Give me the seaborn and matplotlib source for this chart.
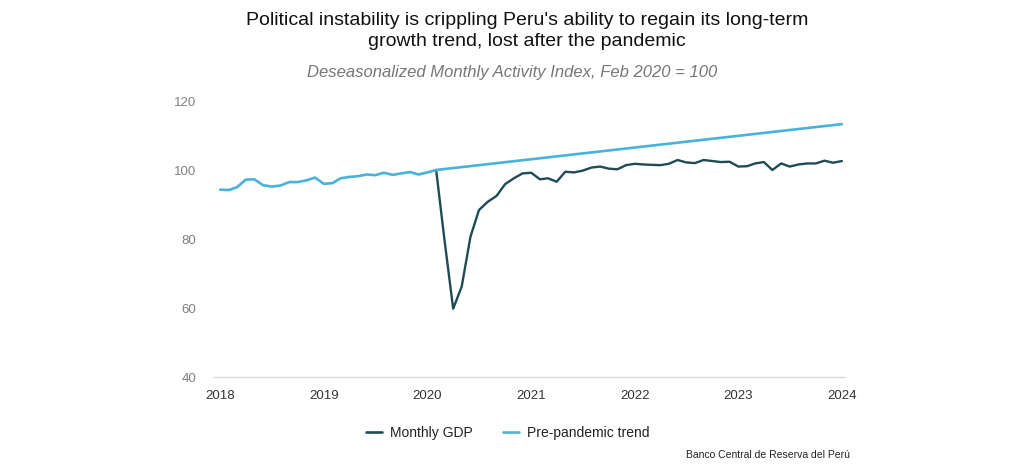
import matplotlib
matplotlib.use("Agg")
import matplotlib.pyplot as plt
import seaborn as sns
import pandas as pd

# ---- data ----
pre_months = pd.date_range("2018-01-01", "2020-02-01", freq="MS")
pre_values = [94.3, 94.2, 95.0, 97.2, 97.3, 95.6, 95.2, 95.5, 96.5, 96.5, 97.0, 97.8,
              96.0, 96.2, 97.6, 98.0, 98.2, 98.7, 98.5, 99.2, 98.6, 99.0, 99.4, 98.7,
              99.3, 100.0]
trend_end_month = pd.Timestamp("2024-01-01")
trend_end_value = 113.3

gdp_months = pd.date_range("2020-02-01", "2024-01-01", freq="MS")
gdp_values = [100.0, 80.0, 59.8, 66.2, 80.7, 88.4, 90.8, 92.5, 95.9, 97.6, 99.0,
              99.2, 97.3, 97.6, 96.6, 99.5, 99.3, 99.8, 100.7, 101.0, 100.4, 100.2, 101.4,
              101.8, 101.6, 101.5, 101.4, 101.8, 102.9, 102.2, 102.0, 102.9, 102.6, 102.3, 102.4,
              101.0, 101.1, 101.9, 102.3, 100.0, 101.9, 101.0, 101.6, 101.9, 101.9, 102.7, 102.1,
              102.6]

series_names = ["Monthly GDP", "Pre-pandemic trend"]
colors = ["#1e4b55", "#48b2da"]
y_ticks = [40, 60, 80, 100, 120]
x_tick_years = [2018, 2019, 2020, 2021, 2022, 2023, 2024]

title = ("Political instability is crippling Peru's ability to regain its long-term\n"
         "growth trend, lost after the pandemic")
subtitle = "Deseasonalized Monthly Activity Index, Feb 2020 = 100"
source = "Banco Central de Reserva del Perú"

trend_months = list(pre_months) + [trend_end_month]
trend_values = pre_values + [trend_end_value]

df = pd.concat([
    pd.DataFrame({"date": gdp_months, "value": gdp_values, "series": series_names[0]}),
    pd.DataFrame({"date": trend_months, "value": trend_values, "series": series_names[1]}),
], ignore_index=True)

# ---- style ----
sns.set_style("white")
plt.rcParams["font.family"] = ["Liberation Sans", "DejaVu Sans"]

fig = plt.figure(figsize=(10.24, 4.65), dpi=100)
ax = fig.add_axes([214 / 1024, 1 - 377 / 465, (845 - 214) / 1024, (377 - 101) / 465])

sns.lineplot(data=df, x="date", y="value", hue="series", hue_order=series_names,
             palette=colors, ax=ax, linewidth=1.9, sort=True)
for line, lw in zip(ax.get_lines(), [1.7, 1.9]):
    line.set_linewidth(lw)
    line.set_solid_joinstyle("round")

ax.set_ylim(40, 120)
ax.set_yticks(y_ticks)
ax.set_xlim(pd.Timestamp("2017-12-10"), pd.Timestamp("2024-01-12"))
ax.set_xticks([pd.Timestamp(f"{y}-01-01") for y in x_tick_years])
ax.set_xticklabels([str(y) for y in x_tick_years])
ax.set_xlabel("")
ax.set_ylabel("")

for s in ["top", "right", "left"]:
    ax.spines[s].set_visible(False)
ax.spines["bottom"].set_color("#dddddd")
ax.spines["bottom"].set_linewidth(1.0)
ax.tick_params(axis="y", length=0, pad=13, labelsize=9.5, labelcolor="#808080")
ax.tick_params(axis="x", length=0, pad=9, labelsize=9.5, labelcolor="#333333")
ax.grid(False)

sns.move_legend(ax, "center", bbox_to_anchor=(508 / 1024, 1 - 433 / 465),
                bbox_transform=fig.transFigure, ncol=2, frameon=False, title=None,
                fontsize=10, handlelength=1.1, columnspacing=2.2, handletextpad=0.6)
leg = ax.get_legend()
for t in leg.get_texts():
    t.set_color("#222222")

fig.text(527 / 1024, 1 - 31 / 465, title, ha="center", va="center", fontsize=14,
         color="#111111", linespacing=1.25)
fig.text(512 / 1024, 1 - 72 / 465, subtitle, ha="center", va="center", fontsize=12,
         style="italic", color="#777777")
fig.text(850 / 1024, 1 - 455 / 465, source, ha="right", va="center", fontsize=7.5,
         color="#222222", family=["Liberation Sans Narrow", "Liberation Sans", "DejaVu Sans"])

fig.savefig("out.png", dpi=100, facecolor="white")
